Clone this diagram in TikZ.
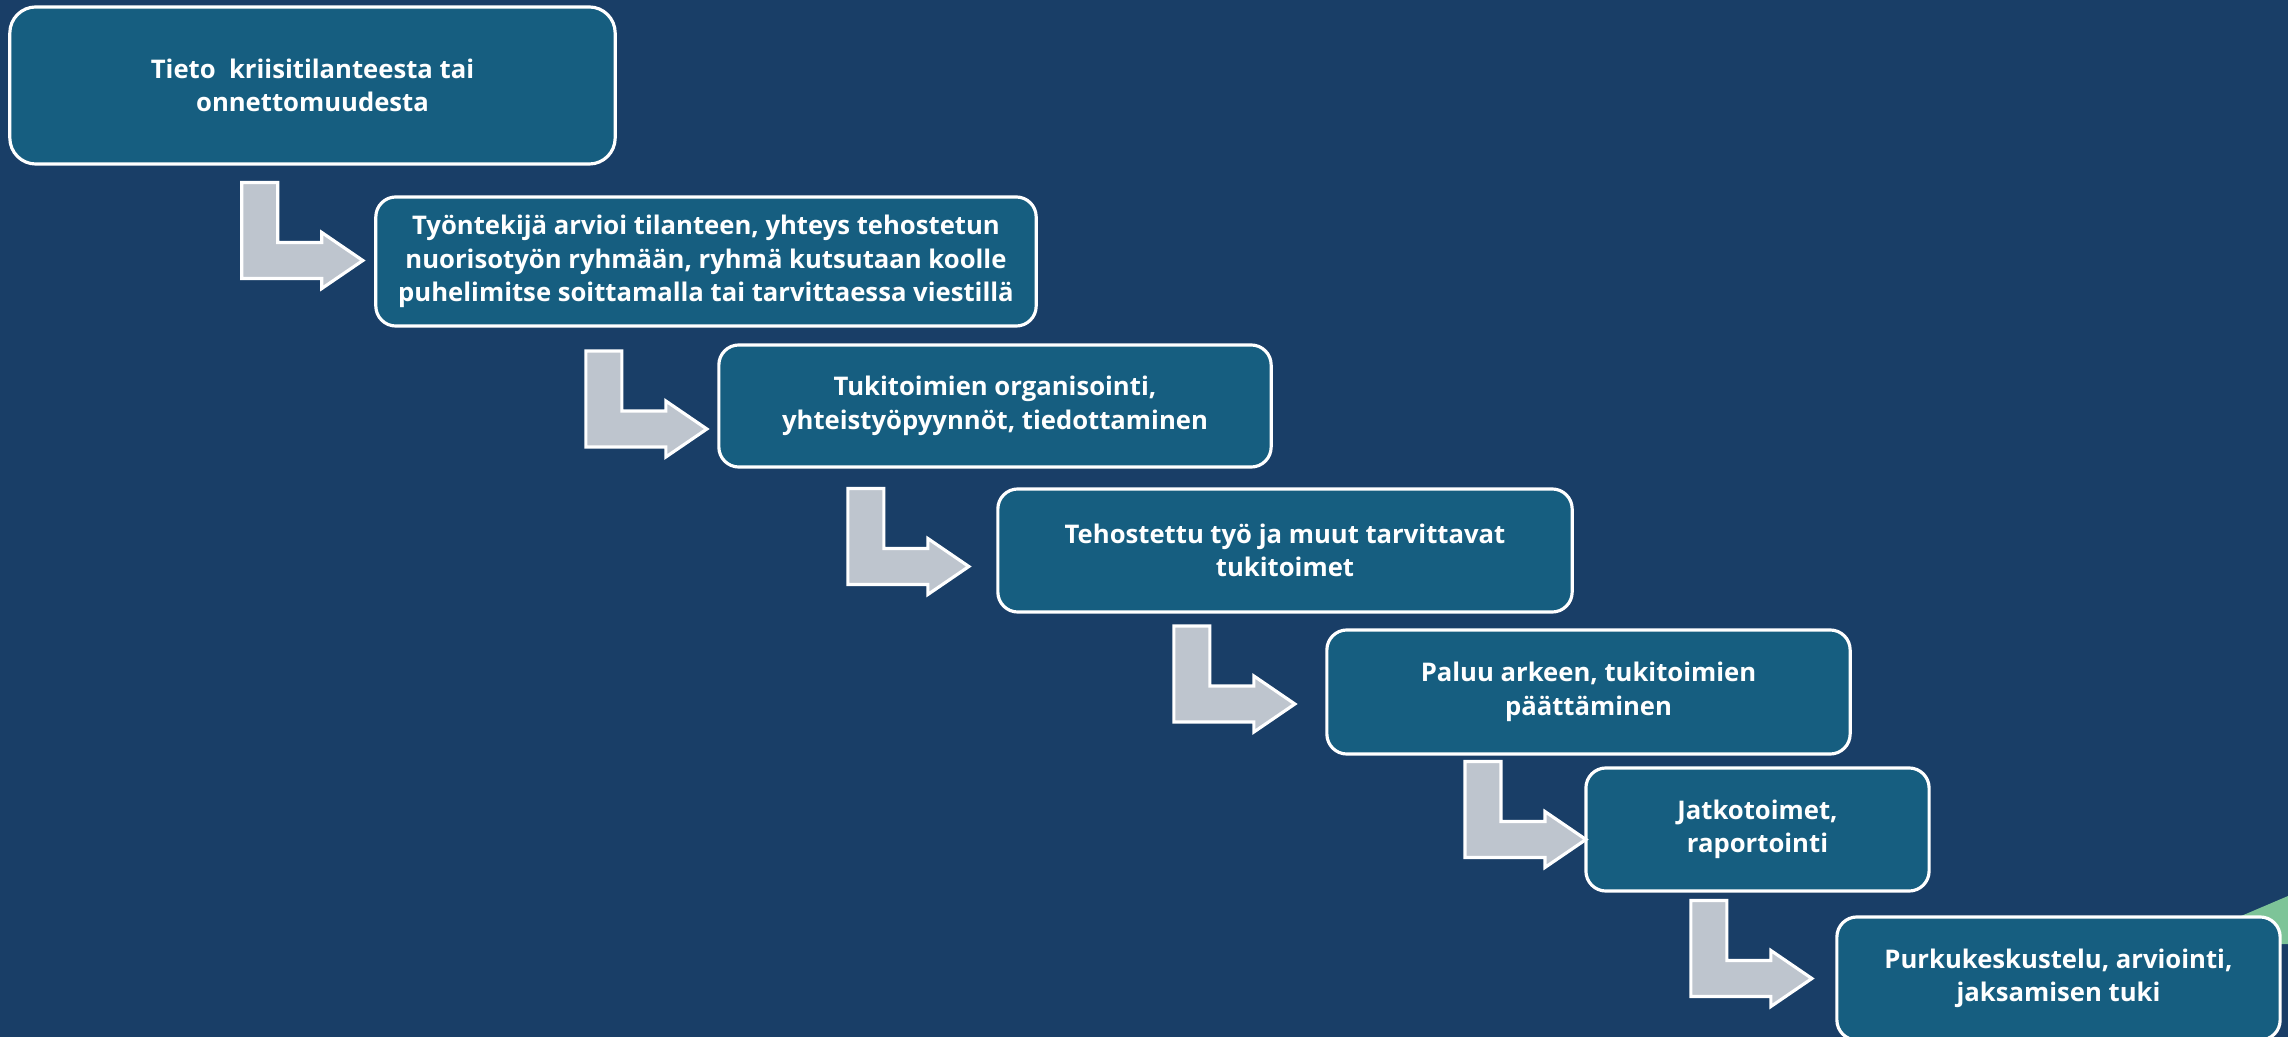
\documentclass[tikz,border=0pt]{standalone}
\usepackage{fontspec}
\setmainfont{Open Sans}
\usetikzlibrary{%
		calc%
	}

\definecolor{bgnavy}{RGB}{25,62,103}
\definecolor{boxteal}{RGB}{22,94,128}
\definecolor{arrowgrey}{RGB}{190,197,206}
\definecolor{leafgreen}{RGB}{125,196,152}

\begin{document}
\begin{tikzpicture}[x=0.01cm,y=-0.01cm,
		stepbox/.style={draw=white,line width=0.9pt,fill=boxteal,rounded corners=0.2cm,
			text=white,font=\bfseries\fontsize{7.3}{9.5}\selectfont,align=center,
			inner sep=0pt,outer sep=0pt},
		bentarrow/.pic={
			\filldraw[draw=white,line width=0.9pt,fill=arrowgrey]
				(-121,-78) -- (-85,-78) -- (-85,-18) -- (-41,-18) -- (-41,-28) -- (0,0)
				-- (-41,28) -- (-41,18) -- (-121,18) -- cycle;
		}
	]
			\useasboundingbox (0,0) rectangle (2288,1037);
			\clip (0,0) rectangle (2288,1037);
			\fill[bgnavy] (0,0) rectangle (2288,1037);
			\fill[leafgreen] (2220,925) -- (2288,896) -- (2288,944) -- (2220,944) -- cycle;

			\node[stepbox,rounded corners=0.26cm,minimum width=6.05cm,minimum height=1.57cm] (b1) at (312.5,85.5)
				{Tieto~ kriisitilanteesta tai\\onnettomuudesta};
			\node[stepbox,minimum width=6.6cm,minimum height=1.29cm] (b2) at (706,261.5)
				{Työntekijä arvioi tilanteen, yhteys tehostetun\\nuorisotyön ryhmään, ryhmä kutsutaan koolle\\puhelimitse soittamalla tai tarvittaessa viestillä};
			\node[stepbox,minimum width=5.52cm,minimum height=1.22cm] (b3) at (995,406)
				{Tukitoimien organisointi,\\yhteistyöpyynnöt, tiedottaminen};
			\node[stepbox,minimum width=5.74cm,minimum height=1.23cm] (b4) at (1285,550.5)
				{Tehostettu työ ja muut tarvittavat\\tukitoimet};
			\node[stepbox,minimum width=5.23cm,minimum height=1.24cm] (b5) at (1588.5,692)
				{Paluu arkeen, tukitoimien\\päättäminen};
			\node[stepbox,minimum width=3.43cm,minimum height=1.23cm] (b6) at (1757.5,829.5)
				{Jatkotoimet,\\raportointi};
			\node[stepbox,minimum width=4.43cm,minimum height=1.23cm] (b7) at (2058.5,978.5)
				{Purkukeskustelu, arviointi,\\jaksamisen tuki};

			% bent arrows, tip just left of the next box
			\pic at ($(b2.west)+(-13,-1)$) {bentarrow};
			\pic at ($(b3.west)+(-12,23)$) {bentarrow};
			\pic at ($(b4.west)+(-29,16)$) {bentarrow};
			\pic at ($(b5.west)+(-32,12)$) {bentarrow};
			\pic at ($(b6.west)+(0,10)$) {bentarrow};
			\pic at ($(b7.west)+(-25,0)$) {bentarrow};
		\end{tikzpicture}
\end{document}
